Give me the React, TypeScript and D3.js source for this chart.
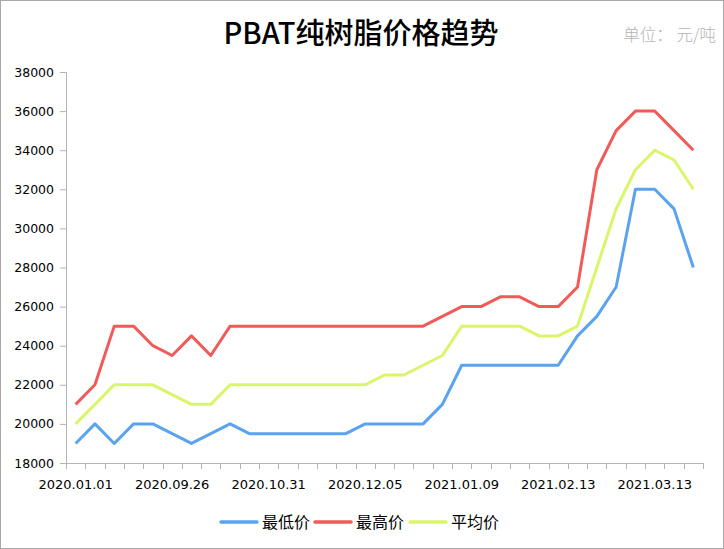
import * as d3 from "d3"
import { useEffect, useRef } from "react"

// 33 weekly-ish observations, only every 5th date is labelled on the axis
const tickLabels = [
  "2020.01.01",
  "2020.09.26",
  "2020.10.31",
  "2020.12.05",
  "2021.01.09",
  "2021.02.13",
  "2021.03.13",
]

const lowPrice = [
  19000, 20000, 19000, 20000, 20000, 19500, 19000, 19500, 20000, 19500, 19500,
  19500, 19500, 19500, 19500, 20000, 20000, 20000, 20000, 21000, 23000, 23000,
  23000, 23000, 23000, 23000, 24500, 25500, 27000, 32000, 32000, 31000, 28000,
]

const highPrice = [
  21000, 22000, 25000, 25000, 24000, 23500, 24500, 23500, 25000, 25000, 25000,
  25000, 25000, 25000, 25000, 25000, 25000, 25000, 25000, 25500, 26000, 26000,
  26500, 26500, 26000, 26000, 27000, 33000, 35000, 36000, 36000, 35000, 34000,
]

const avgPrice = [
  20000, 21000, 22000, 22000, 22000, 21500, 21000, 21000, 22000, 22000, 22000,
  22000, 22000, 22000, 22000, 22000, 22500, 22500, 23000, 23500, 25000, 25000,
  25000, 25000, 24500, 24500, 25000, 28000, 31000, 33000, 34000, 33500, 32000,
]

const seriesNames = ["最低价", "最高价", "平均价"]
const seriesColors = ["#5ba3ee", "#f25a5a", "#d9f56a"]

const WIDTH = 724
const HEIGHT = 549

const App = () => {
  const svgRef = useRef<SVGSVGElement>(null)

  useEffect(() => {
    if (!svgRef.current) return
    const svg = d3.select(svgRef.current)
    svg.selectAll("*").remove()

    const MARGIN = { top: 72, right: 21, bottom: 86, left: 66 }
    const n = lowPrice.length
    const idx = d3.range(n)

    const x = d3
      .scaleBand<number>()
      .domain(idx)
      .range([MARGIN.left, WIDTH - MARGIN.right])
    const y = d3
      .scaleLinear()
      .domain([18000, 38000])
      .range([HEIGHT - MARGIN.bottom, MARGIN.top])

    const axisColor = "#b4b4b4"

    // outer frame
    svg
      .append("rect")
      .attr("x", 0.5)
      .attr("y", 0.5)
      .attr("width", WIDTH - 1)
      .attr("height", HEIGHT - 1)
      .attr("fill", "#fff")
      .attr("stroke", "#a8a8a8")

    svg
      .append("text")
      .attr("x", 361)
      .attr("y", 44)
      .attr("text-anchor", "middle")
      .attr("font-family", "'Noto Sans CJK SC', sans-serif")
      .attr("font-size", "29px")
      .attr("font-weight", "500")
      .attr("fill", "#000")
      .text("PBAT纯树脂价格趋势")

    svg
      .append("text")
      .attr("x", 716)
      .attr("y", 41)
      .attr("text-anchor", "end")
      .attr("font-family", "'Noto Sans CJK SC', sans-serif")
      .attr("font-size", "16.5px")
      .attr("font-weight", "300")
      .attr("fill", "#b4b4b4")
      .text("单位： 元/吨")

    // y axis
    const yAxis = svg
      .append("g")
      .attr("transform", `translate(${MARGIN.left}, 0)`)
      .call(d3.axisLeft(y).tickValues(d3.range(18000, 38001, 2000)).tickSize(6).tickPadding(6).tickFormat(d3.format("d")))
    yAxis.select(".domain").attr("stroke", axisColor)
    yAxis.selectAll(".tick line").attr("stroke", axisColor)
    yAxis
      .selectAll(".tick text")
      .attr("fill", "#000")
      .attr("font-family", "'DejaVu Sans', sans-serif")
      .attr("font-size", "12.5px")

    // x axis: tick marks between categories
    const base = HEIGHT - MARGIN.bottom
    const xg = svg.append("g")
    xg.append("line")
      .attr("x1", MARGIN.left)
      .attr("x2", WIDTH - MARGIN.right)
      .attr("y1", base + 0.5)
      .attr("y2", base + 0.5)
      .attr("stroke", axisColor)
    xg.selectAll("line.tick")
      .data(d3.range(n + 1))
      .join("line")
      .attr("class", "tick")
      .attr("x1", (d) => Math.round(MARGIN.left + d * x.step()) + 0.5)
      .attr("x2", (d) => Math.round(MARGIN.left + d * x.step()) + 0.5)
      .attr("y1", base)
      .attr("y2", base + 6)
      .attr("stroke", axisColor)
    xg.selectAll("text")
      .data(tickLabels)
      .join("text")
      .attr("x", (_, i) => (x(i * 5) ?? 0) + x.bandwidth() / 2)
      .attr("y", base + 26)
      .attr("text-anchor", "middle")
      .attr("font-family", "'DejaVu Sans', sans-serif")
      .attr("font-size", "13px")
      .attr("fill", "#000")
      .text((d) => d)

    // lines
    const line = d3
      .line<number>()
      .x((_, i) => (x(i) ?? 0) + x.bandwidth() / 2)
      .y((d) => y(d))
    const series = [lowPrice, highPrice, avgPrice]
    svg
      .selectAll("path.series")
      .data(series)
      .join("path")
      .attr("class", "series")
      .attr("fill", "none")
      .attr("stroke", (_, i) => seriesColors[i])
      .attr("stroke-width", 3)
      .attr("stroke-linejoin", "round")
      .attr("d", (d) => line(d))

    // legend
    const legendX = [221, 315, 410]
    const legend = svg
      .selectAll("g.legend")
      .data(seriesNames)
      .join("g")
      .attr("class", "legend")
      .attr("transform", (_, i) => `translate(${legendX[i]}, 522)`)
    legend
      .append("line")
      .attr("x1", 0)
      .attr("x2", 36)
      .attr("stroke", (_, i) => seriesColors[i])
      .attr("stroke-width", 3.5)
      .attr("stroke-linecap", "round")
    legend
      .append("text")
      .attr("x", 41)
      .attr("y", 6)
      .attr("font-family", "'Noto Sans CJK SC', sans-serif")
      .attr("font-size", "16px")
      .attr("fill", "#000")
      .text((d) => d)
  }, [])

  return (
    <svg
      ref={svgRef}
      width={WIDTH}
      height={HEIGHT}
      style={{ position: "absolute", left: 0, top: 0, display: "block" }}
    />
  )
}

export default App
